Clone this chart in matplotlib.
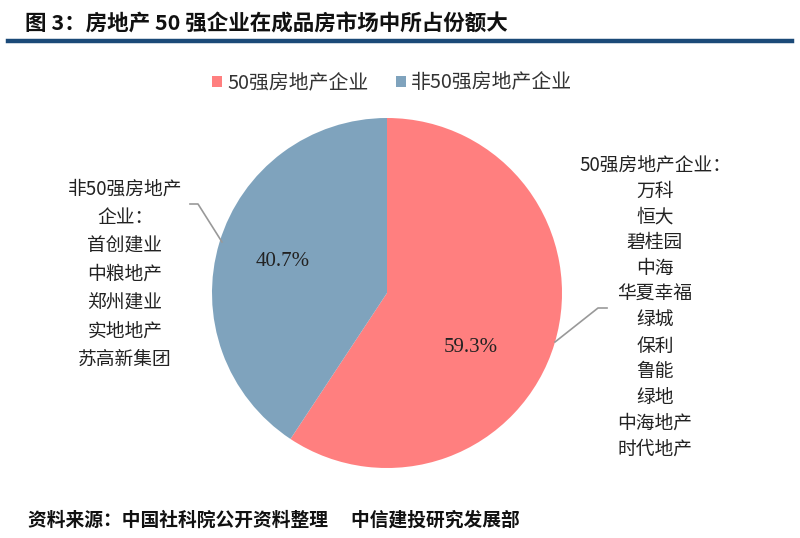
import matplotlib.pyplot as plt
from matplotlib.patches import Patch
from matplotlib.lines import Line2D

plt.rcParams['font.family'] = ['Noto Sans CJK SC', 'DejaVu Sans']

# data
categories = ['50强房地产企业', '非50强房地产企业']
shares = [59.3, 40.7]
colors = ['#FF7F7F', '#7FA3BD']
top50_names = ['万科', '恒大', '碧桂园', '中海', '华夏幸福', '绿城', '保利',
               '鲁能', '绿地', '中海地产', '时代地产']
other_names = ['首创建业', '中粮地产', '郑州建业', '实地地产', '苏高新集团']

W, H = 800, 538


def fx(px):
    return px / W


def fy(py):
    return 1 - py / H


fig = plt.figure(figsize=(8, 5.38), dpi=100)

# title and rule
fig.text(fx(25), fy(24), '图 3：房地产 50 强企业在成品房市场中所占份额大',
         fontsize=15.5, fontweight='bold', color='#111111', va='center', ha='left')
fig.add_artist(Line2D([fx(8), fx(792)], [fy(41), fy(41)], color='#1B4A78', lw=3.2))

# pie
cx, cy, r = 387, 293, 175
ax = fig.add_axes([fx(cx - r), fy(cy + r), 2 * r / W, 2 * r / H])
wedges, _, autotexts = ax.pie(shares, colors=colors, startangle=90, counterclock=False,
                              autopct='%.1f%%', pctdistance=0.62,
                              textprops=dict(fontsize=15, color='#222222',
                                             family='Liberation Serif'))
autotexts[0].set_position((0.48, -0.31))
ax.set_xlim(-1, 1)
ax.set_ylim(-1, 1)
ax.set_aspect('auto')
ax.axis('off')

# legend
handles = [Patch(facecolor=c, edgecolor='none') for c in colors]
fig.legend(handles, categories, loc='center', bbox_to_anchor=(fx(392), fy(83)), ncol=2,
           frameon=False, fontsize=14.3, handlelength=0.5, handleheight=0.5,
           handletextpad=0.25, columnspacing=1.4, labelcolor='#333333')

# side labels
right_lines = ['50强房地产企业：'] + top50_names
fig.text(fx(655), fy(155), '\n'.join(right_lines), ha='center', va='top',
         fontsize=13.5, color='#222222', linespacing=1.30)
left_lines = ['非50强房地产', '企业：'] + other_names
fig.text(fx(125), fy(179), '\n'.join(left_lines), ha='center', va='top',
         fontsize=13.5, color='#222222', linespacing=1.46)

# leader lines
fig.add_artist(Line2D([fx(190), fx(198), fx(222)], [fy(204), fy(204), fy(242)],
                      color='#999999', lw=1.2))
fig.add_artist(Line2D([fx(607), fx(598), fx(555)], [fy(308), fy(308), fy(342)],
                      color='#999999', lw=1.2))

# source
fig.text(fx(28), fy(520), '资料来源：中国社科院公开资料整理\u3000 中信建投研究发展部',
         fontsize=13.5, fontweight='bold', style='italic', color='#111111',
         va='center', ha='left')

plt.savefig('out.png', dpi=100)
